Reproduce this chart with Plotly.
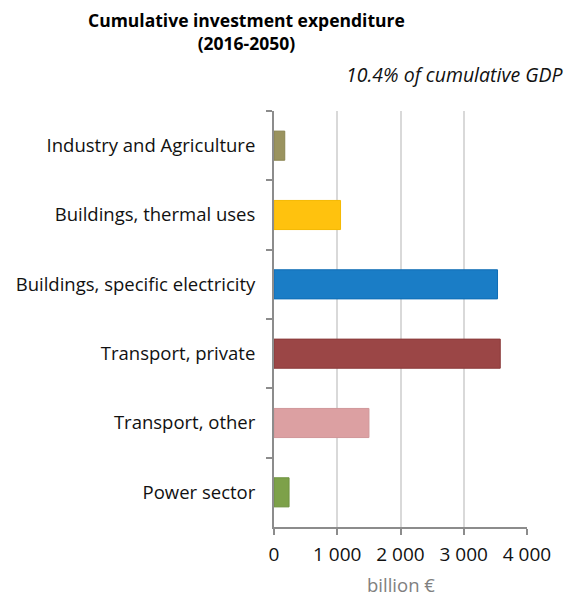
import plotly.graph_objects as go

categories = ["Industry and Agriculture", "Buildings, thermal uses", "Buildings, specific electricity",
              "Transport, private", "Transport, other", "Power sector"]
values = [170, 1052, 3534, 3577, 1501, 238]
colors = ["#9a935f", "#ffc20e", "#1a7dc6", "#9b4646", "#dca0a2", "#7da149"]
borders = ["#8a8450", "#f5b800", "#0f6db5", "#8a3a3a", "#d0979a", "#6f9240"]
x_ticks = [0, 1000, 2000, 3000, 4000]
x_tick_labels = ["0", "1 000", "2 000", "3 000", "4 000"]

W, H = 568, 597
L, R, T, B = 274, 41, 111, 70

fig = go.Figure(go.Bar(
    y=categories, x=values, orientation="h",
    marker=dict(color=colors, line=dict(color=borders, width=1)),
))

font = "Open Sans"
fig.update_layout(
    width=W, height=H,
    margin=dict(l=L, r=R, t=T, b=B),
    plot_bgcolor="white", paper_bgcolor="white",
    bargap=0.58,
    showlegend=False,
    font=dict(family=font, color="#111"),
)
fig.update_yaxes(
    autorange="reversed", categoryorder="array", categoryarray=categories,
    showline=True, linecolor="#8c8c8c", linewidth=2,
    ticks="outside", ticklen=6, tickcolor="#8c8c8c", tickwidth=2,
    tickson="boundaries", showgrid=False, ticklabelstandoff=13, automargin=False,
    tickfont=dict(size=18.5, family=font, color="#111"),
)
fig.update_xaxes(
    range=[0, 4000], tickvals=x_ticks, ticktext=x_tick_labels,
    showline=True, linecolor="#8c8c8c", linewidth=2,
    ticks="outside", ticklen=6, tickcolor="#8c8c8c", tickwidth=2,
    showgrid=True, gridcolor="#d9d9d9", gridwidth=2, zeroline=False,
    ticklabelstandoff=3, automargin=False,
    tickfont=dict(size=19, family=font, color="#111"),
)
pw = W - L - R
ph = H - T - B
def px(x): return (x - L) / pw
def py(y): return (H - B - y) / ph

fig.add_annotation(text="<b>Cumulative investment expenditure<br>(2016-2050)</b>",
                   xref="paper", yref="paper", x=px(246), y=py(6), xanchor="center", yanchor="top",
                   showarrow=False, font=dict(size=17.5, family=font, color="#000"))
fig.add_annotation(text="<i>10.4% of cumulative GDP</i>",
                   xref="paper", yref="paper", x=px(565), y=py(74), xanchor="right", yanchor="middle",
                   showarrow=False, font=dict(size=19.5, family=font, color="#111"))
fig.add_annotation(text="billion €",
                   xref="paper", yref="paper", x=0.5, y=py(584), xanchor="center", yanchor="middle",
                   showarrow=False, font=dict(size=18.5, family=font, color="#808080"))
fig.write_html("out.html", config={"displayModeBar": False})

with open("out.html", encoding="utf-8") as f:
    html = f.read()
html = html.replace("<head>", "<head><style>html,body{margin:0;padding:0;overflow:hidden;}</style>", 1)
with open("out.html", "w", encoding="utf-8") as f:
    f.write(html)
